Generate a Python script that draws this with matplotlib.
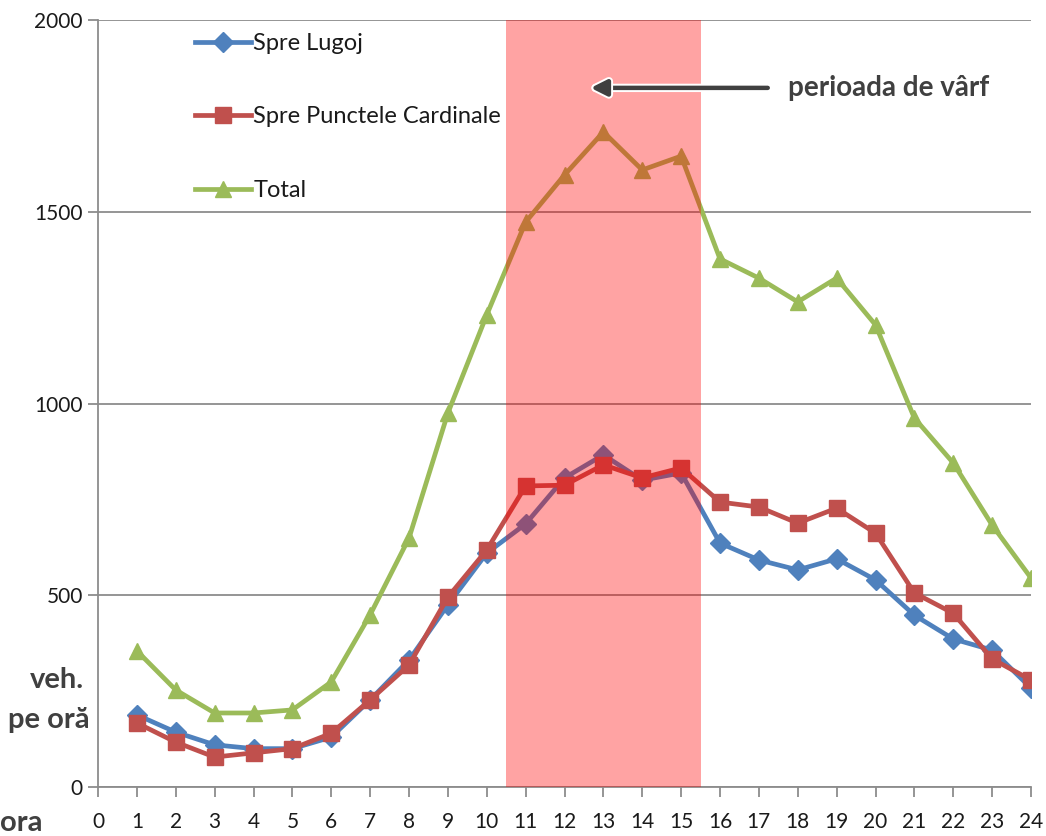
import matplotlib
matplotlib.use("Agg")
import matplotlib.pyplot as plt
import matplotlib.patheffects as pe

# hourly traffic, vehicles per hour
hours = list(range(1, 25))
lugoj = [188, 143, 110, 100, 100, 130, 227, 331, 475, 610, 686, 806,
         866, 800, 819, 636, 592, 566, 595, 540, 448, 386, 357, 258]
cardinale = [167, 117, 78, 89, 100, 140, 227, 318, 495, 618, 785, 787,
             840, 806, 832, 743, 730, 688, 727, 662, 506, 453, 334, 279]
total = [355, 253, 193, 193, 201, 274, 449, 649, 975, 1231, 1473, 1596,
         1708, 1609, 1645, 1377, 1327, 1265, 1327, 1205, 962, 845, 683, 545]
series_labels = ['Spre Lugoj', 'Spre Punctele Cardinale', 'Total']
peak_span = (10.5, 15.5)
y_ticks = [0, 500, 1000, 1500, 2000]
x_ticks = list(range(0, 25))

C_BLUE = '#4F81BD'
C_RED = '#C0504D'
C_GREEN = '#9BBB59'
C_GRID = '#8C8C8C'
C_TXT = '#1A1A1A'
C_LBL = '#404040'

plt.rcParams['font.family'] = ['Lato', 'DejaVu Sans']

fig = plt.figure(figsize=(10.46, 8.36), dpi=100)
ax = fig.add_axes([98 / 1046, 49 / 836, 933 / 1046, 767 / 836])

ax.plot(hours, lugoj, color=C_BLUE, lw=3.4, marker='D', ms=10,
        label=series_labels[0], zorder=3)
ax.plot(hours, cardinale, color=C_RED, lw=3.4, marker='s', ms=12,
        label=series_labels[1], zorder=4)
ax.plot(hours, total, color=C_GREEN, lw=3.4, marker='^', ms=12,
        label=series_labels[2], zorder=5)

# peak-hour band sits on top of the lines, tinting them
ax.axvspan(*peak_span, facecolor='#FF0000', alpha=0.36, lw=0, zorder=6)

ax.set_xlim(0, 24)
ax.set_ylim(0, 2000)
ax.set_xticks(x_ticks)
ax.set_yticks(y_ticks)
ax.tick_params(axis='both', labelsize=15, colors=C_GRID, labelcolor=C_TXT,
               length=7, width=1.3, direction='out')
ax.tick_params(axis='x', pad=11)
ax.tick_params(axis='y', pad=4)
ax.yaxis.grid(True, color=C_GRID, lw=1.3, zorder=1)
ax.set_axisbelow(True)
for side in ('top', 'right'):
    ax.spines[side].set_visible(False)
for side in ('left', 'bottom'):
    ax.spines[side].set_color(C_GRID)
    ax.spines[side].set_linewidth(1.3)

leg = ax.legend(loc='upper left', bbox_to_anchor=(0.104, 0.983),
                frameon=False, fontsize=17, labelspacing=2.22,
                handlelength=2.35, handletextpad=0.12, borderaxespad=0,
                borderpad=0)
for t in leg.get_texts():
    t.set_color(C_TXT)

# annotation: peak period
ax.annotate('', xy=(12.6, 1823), xytext=(17.3, 1823),
            arrowprops=dict(arrowstyle='-|>', color=C_LBL, lw=3.2,
                            mutation_scale=24,
                            path_effects=[pe.withStroke(linewidth=6,
                                                        foreground='white')]),
            zorder=8)
ax.text(17.75, 1823, 'perioada de vârf', fontsize=20, fontweight='bold',
        color=C_LBL, va='center', ha='left', zorder=8)

# axis titles placed like in the original
fig.text(84 / 1046, 1 - 680 / 836, 'veh.', fontsize=21, fontweight='bold',
         color=C_LBL, ha='right', va='center')
fig.text(90 / 1046, 1 - 720 / 836, 'pe oră', fontsize=21, fontweight='bold',
         color=C_LBL, ha='right', va='center')
fig.text(0, 1 - 831 / 836, 'ora', fontsize=21, fontweight='bold',
         color=C_LBL, ha='left', va='baseline')

fig.savefig('out.png', dpi=100)
